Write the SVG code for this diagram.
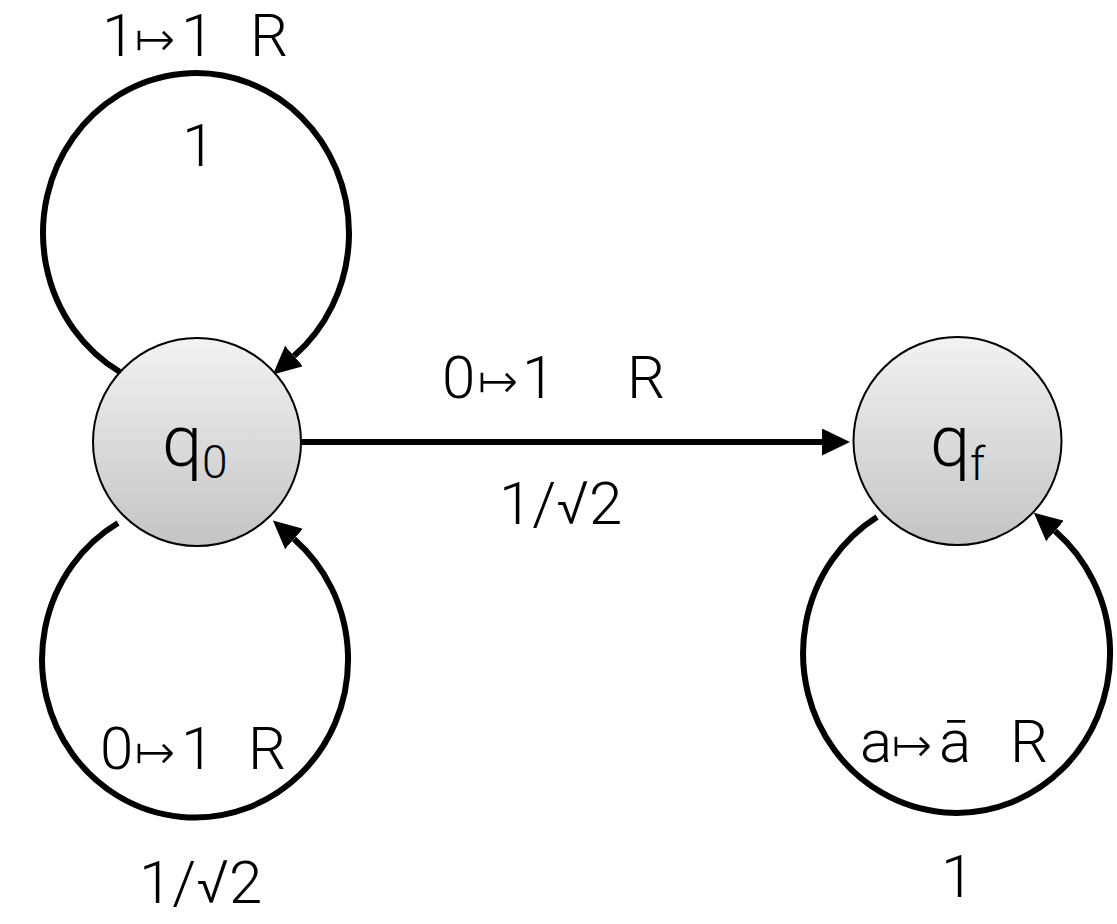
<svg xmlns="http://www.w3.org/2000/svg" width="1117" height="924" viewBox="0 0 1117 924">
<style>
.edge{fill:none;stroke:#000;stroke-width:6}
.node{stroke:#000;stroke-width:2;fill:url(#g)}
text{font-family:Roboto,"Liberation Sans","DejaVu Sans",sans-serif;font-weight:300;fill:#000}
.lbl{font-size:60px}
.map{font-family:"DejaVu Sans",sans-serif;font-weight:normal;font-size:50px;stroke:#fff;stroke-width:1.4px}
.nl{font-size:72px}
.sub{font-size:46px}
</style>
<defs>
<linearGradient id="g" x1="0" y1="0" x2="0" y2="1">
<stop offset="0" stop-color="#f2f2f2"/>
<stop offset="1" stop-color="#c4c4c4"/>
</linearGradient>
<marker id="ah" viewBox="0 0 28 27" refX="0" refY="13.5" markerWidth="28" markerHeight="27" markerUnits="userSpaceOnUse" orient="auto">
<path d="M0,0 L28,13.5 L0,27 z" fill="#000"/>
</marker>
</defs>
<g id="connectors">
<path class="edge" d="M120,372 A153,160 0 1 1 294,356" marker-end="url(#ah)"/>
<path class="edge" d="M118,523 A153,158 0 1 0 294,539" marker-end="url(#ah)"/>
<path class="edge" d="M877,517 A153.5,159.5 0 1 0 1055,531" marker-end="url(#ah)"/>
<path class="edge" d="M301,442 L822,442" marker-end="url(#ah)"/>
</g>
<g id="q0">
<circle class="node" cx="197" cy="442" r="104"/>
<text class="nl" x="162" y="466">q<tspan class="sub" x="202" y="478">0</tspan></text>
</g>
<g id="qf">
<circle class="node" cx="957.5" cy="441" r="104"/>
<text class="nl" x="930" y="466">q<tspan class="sub" x="970" y="480">f</tspan></text>
</g>
<g id="labels">
<text class="lbl" y="56"><tspan x="102">1</tspan><tspan class="map" x="134">↦</tspan><tspan x="181">1</tspan><tspan x="250">R</tspan></text>
<text class="lbl" x="182" y="166">1</text>
<text class="lbl" y="398"><tspan x="442">0</tspan><tspan class="map" x="477">↦</tspan><tspan x="522">1</tspan><tspan x="627">R</tspan></text>
<text class="lbl" x="499" y="524">1/√2</text>
<text class="lbl" y="769"><tspan x="100">0</tspan><tspan class="map" x="134">↦</tspan><tspan x="181">1</tspan><tspan x="248">R</tspan></text>
<text class="lbl" x="139" y="903">1/√2</text>
<text class="lbl" y="762"><tspan x="860">a</tspan><tspan class="map" x="891">↦</tspan><tspan x="939">ā</tspan><tspan x="1010">R</tspan></text>
<text class="lbl" x="941" y="897">1</text>
</g>
</svg>
